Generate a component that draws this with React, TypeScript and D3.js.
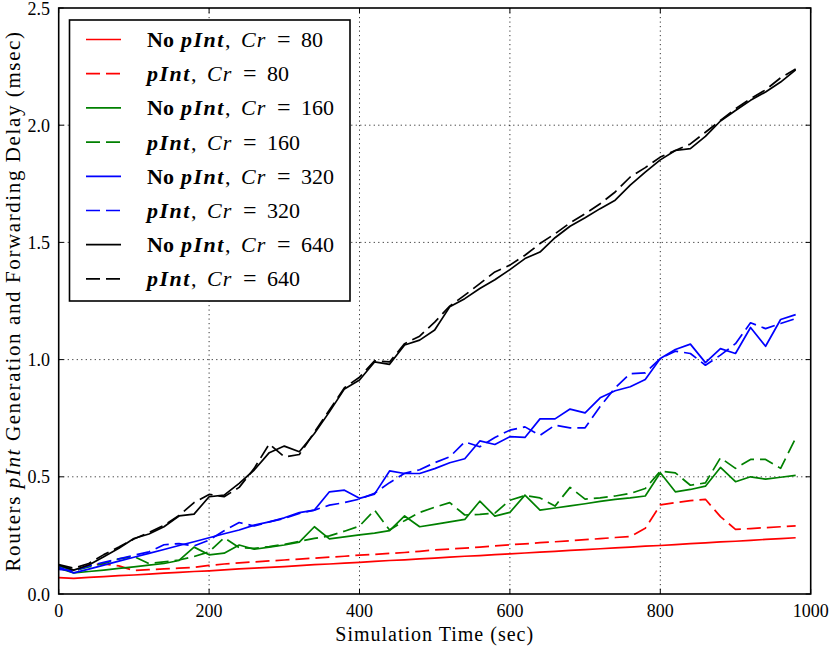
import * as d3 from "d3"

// simulation time (sec), one sample every 20 s
const times = [
  0, 20, 40, 60, 80, 100, 120, 140, 160, 180,
  200, 220, 240, 260, 280, 300, 320, 340, 360, 380,
  400, 420, 440, 460, 480, 500, 520, 540, 560, 580,
  600, 620, 640, 660, 680, 700, 720, 740, 760, 780,
  800, 820, 840, 860, 880, 900, 920, 940, 960, 980,
]

const redSolid = [
  0.070, 0.067, 0.071, 0.074, 0.078, 0.081, 0.085, 0.089, 0.092, 0.096,
  0.099, 0.103, 0.107, 0.110, 0.114, 0.117, 0.121, 0.125, 0.128, 0.132,
  0.135, 0.139, 0.143, 0.146, 0.150, 0.153, 0.157, 0.161, 0.164, 0.168,
  0.171, 0.175, 0.179, 0.182, 0.186, 0.189, 0.193, 0.197, 0.200, 0.204,
  0.207, 0.211, 0.215, 0.218, 0.222, 0.225, 0.229, 0.233, 0.236, 0.240,
]
const redDashed = [
  0.110, 0.095, 0.125, 0.128, 0.120, 0.100, 0.104, 0.107, 0.110, 0.114,
  0.122, 0.128, 0.133, 0.137, 0.141, 0.145, 0.149, 0.153, 0.157, 0.161,
  0.166, 0.169, 0.173, 0.177, 0.182, 0.188, 0.192, 0.196, 0.200, 0.205,
  0.210, 0.214, 0.219, 0.223, 0.227, 0.232, 0.236, 0.241, 0.245, 0.280,
  0.380, 0.390, 0.398, 0.404, 0.330, 0.276, 0.279, 0.283, 0.287, 0.291,
]
const greenSolid = [
  0.110, 0.090, 0.096, 0.102, 0.109, 0.116, 0.123, 0.130, 0.143, 0.200,
  0.167, 0.174, 0.209, 0.191, 0.200, 0.209, 0.221, 0.287, 0.235, 0.244,
  0.252, 0.260, 0.270, 0.333, 0.287, 0.297, 0.308, 0.318, 0.396, 0.332,
  0.348, 0.422, 0.358, 0.367, 0.376, 0.385, 0.395, 0.404, 0.410, 0.418,
  0.517, 0.436, 0.446, 0.460, 0.540, 0.479, 0.500, 0.490, 0.498, 0.506,
]
const greenDashed = [
  0.120, 0.100, 0.115, 0.130, 0.150, 0.160, 0.130, 0.137, 0.145, 0.160,
  0.180, 0.240, 0.198, 0.195, 0.202, 0.212, 0.225, 0.237, 0.248, 0.268,
  0.290, 0.358, 0.273, 0.313, 0.348, 0.370, 0.390, 0.337, 0.340, 0.345,
  0.400, 0.420, 0.410, 0.375, 0.455, 0.405, 0.410, 0.418, 0.429, 0.450,
  0.524, 0.517, 0.464, 0.474, 0.581, 0.536, 0.574, 0.574, 0.536, 0.665,
]
const blueSolid = [
  0.115, 0.090, 0.106, 0.123, 0.140, 0.157, 0.173, 0.190, 0.207, 0.223,
  0.240, 0.257, 0.273, 0.294, 0.308, 0.325, 0.347, 0.358, 0.436, 0.443,
  0.408, 0.426, 0.525, 0.514, 0.514, 0.535, 0.560, 0.577, 0.653, 0.638,
  0.671, 0.668, 0.747, 0.747, 0.789, 0.773, 0.837, 0.867, 0.884, 0.915,
  1.005, 1.043, 1.066, 0.987, 1.047, 1.026, 1.137, 1.057, 1.171, 1.192,
]
const blueDashed = [
  0.105, 0.100, 0.120, 0.135, 0.150, 0.165, 0.180, 0.210, 0.215, 0.205,
  0.230, 0.270, 0.305, 0.290, 0.308, 0.322, 0.344, 0.358, 0.379, 0.390,
  0.405, 0.430, 0.475, 0.515, 0.530, 0.560, 0.585, 0.649, 0.628, 0.668,
  0.699, 0.713, 0.677, 0.720, 0.709, 0.709, 0.800, 0.880, 0.940, 0.943,
  1.005, 1.036, 1.026, 0.976, 1.019, 1.068, 1.157, 1.132, 1.154, 1.175,
]
const blackSolid = [
  0.124, 0.102, 0.124, 0.159, 0.195, 0.237, 0.256, 0.287, 0.333, 0.341,
  0.415, 0.422, 0.472, 0.529, 0.603, 0.631, 0.607, 0.685, 0.777, 0.875,
  0.913, 0.990, 0.980, 1.062, 1.083, 1.126, 1.225, 1.260, 1.303, 1.341,
  1.384, 1.431, 1.459, 1.520, 1.569, 1.605, 1.644, 1.680, 1.744, 1.800,
  1.852, 1.892, 1.900, 1.952, 2.018, 2.063, 2.106, 2.142, 2.184, 2.236,
]
const blackDashed = [
  0.125, 0.110, 0.130, 0.168, 0.200, 0.235, 0.262, 0.293, 0.335, 0.390,
  0.425, 0.415, 0.455, 0.536, 0.640, 0.585, 0.595, 0.690, 0.785, 0.880,
  0.925, 0.995, 0.990, 1.068, 1.100, 1.160, 1.228, 1.275, 1.324, 1.374,
  1.403, 1.445, 1.495, 1.537, 1.583, 1.622, 1.665, 1.715, 1.779, 1.819,
  1.864, 1.892, 1.920, 1.970, 2.020, 2.070, 2.113, 2.151, 2.202, 2.240,
]

const xTicks = [0, 200, 400, 600, 800, 1000]
const yTicks = [0, 0.5, 1.0, 1.5, 2.0, 2.5]

const series = [
  { values: redSolid, color: "#ff0000", dashed: false, cr: "80" },
  { values: redDashed, color: "#ff0000", dashed: true, cr: "80" },
  { values: greenSolid, color: "#008000", dashed: false, cr: "160" },
  { values: greenDashed, color: "#008000", dashed: true, cr: "160" },
  { values: blueSolid, color: "#0000ff", dashed: false, cr: "320" },
  { values: blueDashed, color: "#0000ff", dashed: true, cr: "320" },
  { values: blackSolid, color: "#000000", dashed: false, cr: "640" },
  { values: blackDashed, color: "#000000", dashed: true, cr: "640" },
]

const W = 830
const H = 646
const PLOT = { left: 58.7, right: 810.7, top: 8, bottom: 594 }
const FONT = "'Liberation Serif', 'DejaVu Serif', serif"
const DASH = "14,6"
const txt = { fontFamily: FONT }

const App = () => {
  const x = d3.scaleLinear().domain([0, 1000]).range([PLOT.left, PLOT.right])
  const y = d3.scaleLinear().domain([0, 2.5]).range([PLOT.bottom, PLOT.top])

  const line = d3
    .line<number>()
    .x((_, i) => x(times[i]))
    .y((d) => y(d))

  // legend box
  const leg = { x: 69.5, y: 20, w: 280.5, h: 281, rowY0: 39.5, rowStep: 34.2 }

  return (
    <svg
      width={W}
      height={H}
      style={{ position: "absolute", left: 0, top: 0, background: "#fff", fontFamily: FONT }}
    >
      {/* grid */}
      {xTicks.slice(1, -1).map((t) => (
        <line
          key={"gx" + t}
          x1={x(t)}
          x2={x(t)}
          y1={PLOT.top}
          y2={PLOT.bottom}
          stroke="#000"
          strokeWidth={0.8}
          strokeDasharray="1.2,3.3"
        />
      ))}
      {yTicks.slice(1, -1).map((t) => (
        <line
          key={"gy" + t}
          x1={PLOT.left}
          x2={PLOT.right}
          y1={y(t)}
          y2={y(t)}
          stroke="#000"
          strokeWidth={0.8}
          strokeDasharray="1.2,3.3"
        />
      ))}

      {/* data */}
      {series.map((s, i) => (
        <path
          key={"s" + i}
          d={line(s.values) ?? ""}
          fill="none"
          stroke={s.color}
          strokeWidth={1.7}
          strokeDasharray={s.dashed ? DASH : undefined}
          strokeLinejoin="round"
        />
      ))}

      {/* ticks, inside on all four sides */}
      {xTicks.map((t) => (
        <g key={"tx" + t}>
          <line x1={x(t)} x2={x(t)} y1={PLOT.bottom} y2={PLOT.bottom - 5} stroke="#000" strokeWidth={1} />
          <line x1={x(t)} x2={x(t)} y1={PLOT.top} y2={PLOT.top + 5} stroke="#000" strokeWidth={1} />
          <text style={txt} x={x(t)} y={617} fontSize={18} textAnchor="middle">
            {t}
          </text>
        </g>
      ))}
      {yTicks.map((t) => (
        <g key={"ty" + t}>
          <line x1={PLOT.left} x2={PLOT.left + 5} y1={y(t)} y2={y(t)} stroke="#000" strokeWidth={1} />
          <line x1={PLOT.right} x2={PLOT.right - 5} y1={y(t)} y2={y(t)} stroke="#000" strokeWidth={1} />
          <text style={txt} x={50} y={y(t) + 6.5} fontSize={18} textAnchor="end">
            {t.toFixed(1)}
          </text>
        </g>
      ))}

      {/* frame */}
      <rect
        x={PLOT.left}
        y={PLOT.top}
        width={PLOT.right - PLOT.left}
        height={PLOT.bottom - PLOT.top}
        fill="none"
        stroke="#000"
        strokeWidth={1.6}
      />

      {/* axis labels */}
      <text style={txt} x={(PLOT.left + PLOT.right) / 2} y={641} fontSize={20} textAnchor="middle" letterSpacing={1}>
        Simulation Time (sec)
      </text>
      <text
        style={txt}
        transform={`translate(20, ${(PLOT.top + PLOT.bottom) / 2}) rotate(-90)`}
        fontSize={21}
        textAnchor="middle"
        letterSpacing={1.6}
      >
        Routers <tspan fontStyle="italic">pInt</tspan> Generation and Forwarding Delay (msec)
      </text>

      {/* legend */}
      <rect x={leg.x} y={leg.y} width={leg.w} height={leg.h} fill="#fff" stroke="#000" strokeWidth={1.6} />
      {series.map((s, i) => {
        const cy = leg.rowY0 + i * leg.rowStep
        const base = 147
        const p = s.dashed ? base : base + 34
        const by = cy + 7.5
        return (
          <g key={"l" + i}>
            <line
              x1={86}
              x2={121}
              y1={cy}
              y2={cy}
              stroke={s.color}
              strokeWidth={1.7}
              strokeDasharray={s.dashed ? DASH : undefined}
            />
            <text style={txt} fontSize={22} x={base} y={by}>
              {!s.dashed && <tspan fontWeight="bold">No</tspan>}
              <tspan x={p} fontWeight="bold" fontStyle="italic" letterSpacing={1.5}>
                pInt
              </tspan>
              <tspan>,</tspan>
              <tspan x={p + 60} fontStyle="italic" letterSpacing={1}>
                Cr
              </tspan>
              <tspan x={p + 96} fontSize={24}>
                =
              </tspan>
              <tspan x={p + 120}>{s.cr}</tspan>
            </text>
          </g>
        )
      })}
    </svg>
  )
}

export default App
